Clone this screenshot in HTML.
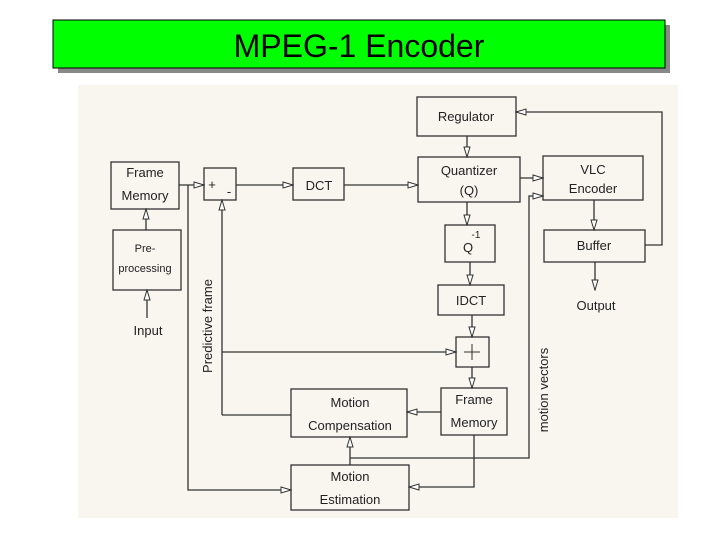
<!DOCTYPE html>
<html><head><meta charset="utf-8"><style>
html,body{margin:0;padding:0;background:#fff;width:720px;height:540px;overflow:hidden}
svg{display:block}
text{font-family:"Liberation Sans",sans-serif;fill:#222}
</style></head><body>
<svg width="720" height="540" viewBox="0 0 720 540" xmlns="http://www.w3.org/2000/svg">
<defs>
<marker id="a" markerWidth="12" markerHeight="8" refX="11" refY="4" orient="auto" markerUnits="userSpaceOnUse">
<path d="M1,1 L11,4 L1,7 Z" fill="#fff" stroke="#333" stroke-width="1"/>
</marker>
</defs>
<rect x="78" y="85" width="600" height="433" fill="#f8f6ef"/>
<rect x="58" y="25" width="612" height="48" fill="#888"/>
<rect x="53" y="20" width="612" height="48" fill="#00ff00" stroke="#000" stroke-width="1"/>
<text x="359" y="57" font-size="32" text-anchor="middle" style="fill:#000">MPEG-1 Encoder</text>

<g fill="none" stroke="#333" stroke-width="1.3">
<rect x="417" y="97" width="99" height="39"/>
<rect x="418" y="157" width="102" height="45"/>
<rect x="543" y="156" width="100" height="44"/>
<rect x="544" y="230" width="101" height="32"/>
<rect x="111" y="162" width="68" height="47"/>
<rect x="113" y="230" width="68" height="60"/>
<rect x="204" y="168" width="32" height="32"/>
<rect x="293" y="168" width="51" height="32"/>
<rect x="445" y="225" width="50" height="37"/>
<rect x="438" y="285" width="66" height="30"/>
<rect x="456" y="337" width="33" height="30"/>
<rect x="441" y="388" width="66" height="47"/>
<rect x="291" y="389" width="116" height="48"/>
<rect x="291" y="465" width="118" height="45"/>

<line x1="179" y1="185" x2="204" y2="185" marker-end="url(#a)"/>
<polyline points="188,185 188,490 291,490" marker-end="url(#a)"/>
<line x1="222" y1="415" x2="222" y2="200" marker-end="url(#a)"/>
<polyline points="291,415 222,415"/>
<line x1="222" y1="352" x2="456" y2="352" marker-end="url(#a)"/>
<line x1="236" y1="185" x2="293" y2="185" marker-end="url(#a)"/>
<line x1="344" y1="185" x2="418" y2="185" marker-end="url(#a)"/>
<line x1="467" y1="136" x2="467" y2="157" marker-end="url(#a)"/>
<line x1="467" y1="202" x2="467" y2="225" marker-end="url(#a)"/>
<line x1="470" y1="262" x2="470" y2="285" marker-end="url(#a)"/>
<line x1="472" y1="315" x2="472" y2="337" marker-end="url(#a)"/>
<line x1="472" y1="367" x2="472" y2="388" marker-end="url(#a)"/>
<line x1="441" y1="412" x2="407" y2="412" marker-end="url(#a)"/>
<polyline points="474,435 474,487 409,487" marker-end="url(#a)"/>
<line x1="350" y1="465" x2="350" y2="437" marker-end="url(#a)"/>
<polyline points="350,458 529,458 529,196 543,196" marker-end="url(#a)"/>
<line x1="520" y1="178" x2="543" y2="178" marker-end="url(#a)"/>
<line x1="594" y1="200" x2="594" y2="230" marker-end="url(#a)"/>
<polyline points="645,245 662,245 662,112 516,112" marker-end="url(#a)"/>
<line x1="595" y1="262" x2="595" y2="290" marker-end="url(#a)"/>
<line x1="146" y1="230" x2="146" y2="209" marker-end="url(#a)"/>
<line x1="147" y1="318" x2="147" y2="290" marker-end="url(#a)"/>
<line x1="472" y1="344" x2="472" y2="360" stroke-width="1"/>
<line x1="464" y1="352" x2="480" y2="352" stroke-width="1"/>
</g>

<g font-size="13" text-anchor="middle">
<text x="466" y="121">Regulator</text>
<text x="469" y="175">Quantizer</text>
<text x="469" y="195">(Q)</text>
<text x="593" y="174">VLC</text>
<text x="593" y="193">Encoder</text>
<text x="594" y="250">Buffer</text>
<text x="596" y="310">Output</text>
<text x="145" y="177">Frame</text>
<text x="145" y="200">Memory</text>
<text x="145" y="252" font-size="11">Pre-</text>
<text x="145" y="272" font-size="11">processing</text>
<text x="148" y="335">Input</text>
<text x="212" y="189">+</text>
<text x="229" y="196">-</text>
<text x="319" y="190">DCT</text>
<text x="468" y="252">Q</text>
<text x="476" y="238" font-size="10">-1</text>
<text x="471" y="305">IDCT</text>
<text x="474" y="404">Frame</text>
<text x="474" y="427">Memory</text>
<text x="350" y="407">Motion</text>
<text x="350" y="430">Compensation</text>
<text x="350" y="481">Motion</text>
<text x="350" y="504">Estimation</text>
<text transform="translate(212,326) rotate(-90)">Predictive frame</text>
<text transform="translate(548,390) rotate(-90)">motion vectors</text>
</g>
</svg>
</body></html>
